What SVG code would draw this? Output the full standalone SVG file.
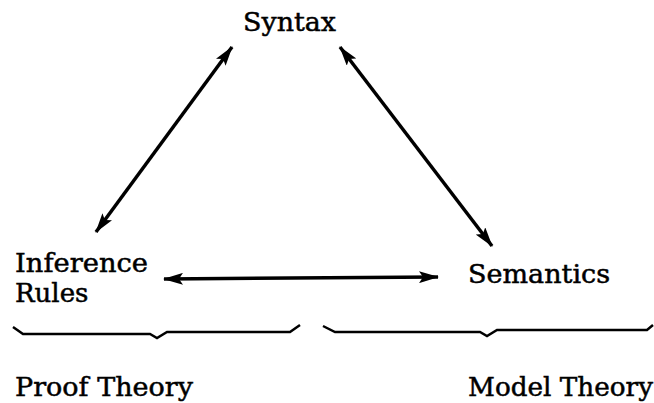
<svg xmlns="http://www.w3.org/2000/svg" width="654" height="403" viewBox="0 0 654 403">
<style>
text{font-family:"DejaVu Serif","Liberation Serif",serif;font-size:26px;fill:#000;stroke:#000;stroke-width:0.5}
.c{stroke:#000;stroke-width:3.5;fill:none}
.b{stroke:#000;stroke-width:2.5;fill:none;stroke-linejoin:miter}
</style>
<defs>
<marker id="ah" viewBox="0 0 20 12" refX="19" refY="6" markerWidth="20" markerHeight="12" markerUnits="userSpaceOnUse" orient="auto-start-reverse">
<path d="M0,0 L20,6 L0,12 L4,6 Z" fill="#000"/>
</marker>
</defs>
<rect width="654" height="403" fill="#fff"/>
<g id="syntax"><text x="243" y="31" textLength="93" lengthAdjust="spacingAndGlyphs">Syntax</text></g>
<g id="inference-rules"><text x="15" y="272" textLength="133" lengthAdjust="spacingAndGlyphs">Inference</text><text x="15" y="302">Rules</text></g>
<g id="semantics"><text x="468" y="283" textLength="142" lengthAdjust="spacingAndGlyphs">Semantics</text></g>
<g id="proof-theory"><path class="b" d="M13,327 L23,334 L150,334 L157,338 L167,332 L290,332 L300,325"/><text x="15" y="396" textLength="178" lengthAdjust="spacingAndGlyphs">Proof Theory</text></g>
<g id="model-theory"><path class="b" d="M323,326 L335,332 L480,332 L487,336 L497,330 L647,330 L653,325"/><text x="468" y="396" textLength="185" lengthAdjust="spacingAndGlyphs">Model Theory</text></g>
<g id="connectors">
<line class="c" x1="96" y1="232" x2="232" y2="47" marker-start="url(#ah)" marker-end="url(#ah)"/>
<line class="c" x1="340" y1="47" x2="492" y2="246" marker-start="url(#ah)" marker-end="url(#ah)"/>
<line class="c" x1="164" y1="279" x2="438" y2="277" marker-start="url(#ah)" marker-end="url(#ah)"/>
</g>
</svg>
